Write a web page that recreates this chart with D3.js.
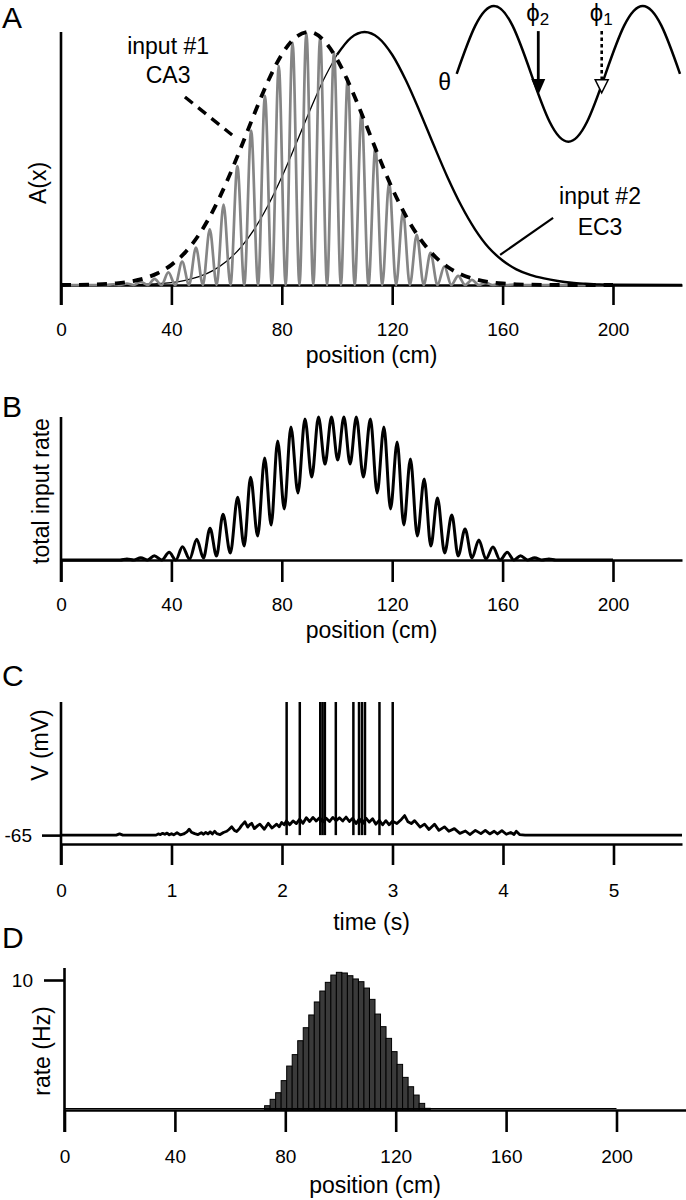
<!DOCTYPE html>
<html><head><meta charset="utf-8">
<script src="https://cdn.jsdelivr.net/npm/d3@7"></script>
<style>
body{margin:0;background:#fff}
svg{display:block;background:#fff}
text{font-family:"Liberation Sans",Arial,sans-serif;fill:#000}
</style>
</head><body>
<svg id="chart" width="686" height="1200"></svg>
<script>
// ---------------- DATA ----------------
const posTicks = [0, 40, 80, 120, 160, 200];
const timeTicks = [0, 1, 2, 3, 4, 5];
const vTicks = [-65];
const rateTicks = [10];

// Panel A: CA3 envelope (dashed), position cm / A(x)
const envX = [0,5,10,15,20,25,30,35,40,45,50,55,60,65,70,75,80,85,90,95,100,105,110,115,120,125,130,135,140,145,150,155,160,165,170,175,180,190,200];
const envY = [0,0.0006,0.0015,0.0032,0.0068,0.0136,0.0258,0.0465,0.0796,0.129,0.199,0.292,0.407,0.538,0.675,0.805,0.911,0.979,1.0,0.969,0.892,0.780,0.648,0.511,0.382,0.272,0.184,0.118,0.072,0.0415,0.0228,0.0119,0.0059,0.0028,0.0012,0.0005,0,0,0];

// Panel A: EC3 input (solid)
const ec3X = [0,20,25,30,35,40,45,50,55,60,65,70,75,80,85,90,95,100,105,110,115,120,125,130,135,140,145,150,155,160,165,170,175,180,185,190,195,200,225];
const ec3Y = [0,0.0005,0.0011,0.0024,0.0049,0.0097,0.0185,0.033,0.057,0.094,0.147,0.220,0.314,0.427,0.554,0.685,0.808,0.910,0.977,1.0,0.977,0.910,0.808,0.685,0.554,0.427,0.314,0.220,0.147,0.097,0.062,0.040,0.026,0.016,0.009,0.005,0.002,0.001,0];

// Panel A: CA3 theta-modulated input (gray) peaks and troughs
const grayPeakX = [18.9,23.9,28.9,33.9,38.9,43.9,48.9,53.9,58.9,63.9,68.9,73.9,78.9,83.9,88.9,93.9,98.9,103.9,108.9,113.9,118.9,123.9,128.9,133.9,138.9,143.9,148.9,153.9,158.9,163.9];
const grayPeakY = [0.003,0.006,0.012,0.024,0.050,0.092,0.148,0.220,0.318,0.470,0.610,0.748,0.866,0.958,0.996,0.980,0.920,0.818,0.684,0.542,0.407,0.290,0.198,0.127,0.074,0.036,0.020,0.009,0.004,0.002];
const grayTroughX = [16.4,21.4,26.4,31.4,36.4,41.4,46.4,51.4,56.4,61.4,66.4,71.4,76.4,81.4,86.4,91.4,96.4,101.4,106.4,111.4,116.4,121.4,126.4,131.4,136.4,141.4,146.4,151.4,156.4,161.4,166.4];
const grayRange = [0, 200];

// Panel B: total input rate, peaks and troughs
const bPeakX = [23.9,28.9,33.8,39.2,44.0,49.2,54.0,58.7,64.0,68.7,73.8,78.5,83.3,88.4,93.3,98.0,102.5,107.0,112.1,117.0,121.8,126.6,131.6,136.4,141.6,146.4,151.4,156.5,161.7,166.5,171.6,176.8];
const bPeakY = [0.007,0.016,0.030,0.054,0.093,0.145,0.222,0.320,0.438,0.578,0.713,0.832,0.930,0.986,1.0,1.0,1.0,1.0,0.986,0.930,0.825,0.706,0.566,0.434,0.315,0.217,0.140,0.091,0.054,0.030,0.016,0.007];
const bTroughX = [21.4,26.4,31.35,36.5,41.6,46.6,51.6,56.35,61.35,66.35,71.25,76.15,80.9,85.85,90.85,95.65,100.25,104.75,109.55,114.55,119.4,124.2,129.1,134.0,139.0,143.9,148.9,153.95,159.1,164.1,169.05,174.2,179.3];
const bTroughY = [0,0,0,0,0,0.007,0.014,0.028,0.049,0.098,0.168,0.245,0.357,0.469,0.580,0.671,0.699,0.671,0.580,0.469,0.357,0.245,0.168,0.098,0.049,0.028,0.014,0.007,0,0,0,0,0];
const bRange = [0, 200];

// Panel C: membrane potential (s, mV) and spike times
const traceT = [0,0.50,0.53,0.56,0.86,0.88,0.90,0.92,0.94,0.96,0.98,1.00,1.02,1.05,1.08,1.11,1.14,1.16,1.18,1.21,1.24,1.27,1.29,1.31,1.33,1.35,1.37,1.39,1.41,1.44,1.47,1.50,1.52,1.545,1.57,1.59,1.615,1.635,1.665,1.69,1.71,1.726,1.75,1.78,1.80,1.84,1.876,1.91,1.952,1.975,1.997,2.02,2.04,2.07,2.10,2.13,2.16,2.19,2.22,2.25,2.28,2.31,2.34,2.37,2.40,2.43,2.46,2.49,2.52,2.55,2.58,2.61,2.64,2.67,2.70,2.73,2.76,2.79,2.82,2.85,2.88,2.91,2.94,2.97,3.00,3.04,3.08,3.11,3.14,3.17,3.20,3.25,3.29,3.33,3.38,3.42,3.47,3.51,3.56,3.61,3.66,3.70,3.75,3.80,3.84,3.88,3.92,3.95,3.99,4.03,4.07,4.10,4.12,4.15,4.20,5.62];
const traceV = [-65.0,-65.0,-64.6,-65.0,-65.0,-64.6,-64.8,-64.4,-64.7,-64.3,-64.9,-64.5,-64.9,-64.2,-64.9,-64.6,-63.9,-63.0,-64.0,-64.5,-64.8,-64.2,-64.7,-64.1,-64.6,-63.9,-64.6,-63.7,-64.5,-64.8,-64.1,-63.7,-63.1,-62.2,-63.4,-63.8,-62.8,-61.7,-60.5,-62.3,-61.4,-61.0,-62.8,-61.8,-61.3,-63.0,-61.0,-62.6,-61.3,-62.2,-60.7,-61.5,-60.2,-61.5,-60.2,-61.1,-59.6,-61.0,-59.1,-60.4,-59.0,-60.2,-59.1,-60.5,-59.3,-60.4,-59.0,-60.1,-59.1,-60.2,-58.9,-60.4,-59.3,-61.1,-59.5,-61.1,-59.3,-60.6,-59.5,-61.3,-60.0,-61.5,-60.1,-61.5,-60.3,-61.1,-59.7,-58.4,-60.5,-61.1,-60.1,-62.3,-61.3,-63.1,-61.3,-63.4,-62.2,-63.7,-62.8,-64.4,-63.6,-64.8,-63.4,-64.5,-63.4,-64.6,-63.7,-64.6,-63.5,-64.7,-64.1,-64.8,-63.7,-64.8,-65.0,-65.0];
const spikeT = [2.042,2.161,2.346,2.367,2.388,2.487,2.646,2.697,2.724,2.751,2.882,3.002];
const spikePeak = -20;
const spikeReset = -65;

// Panel D: place-field histogram (2 cm bins)
const binStart = [72.5,74.5,76.5,78.5,80.5,82.5,84.5,86.5,88.5,90.5,92.5,94.5,96.5,98.5,100.5,102.5,104.5,106.5,108.5,110.5,112.5,114.5,116.5,118.5,120.5,122.5,124.5,126.5,128.5,130.5];
const binRate = [0.33,0.82,1.33,2.26,3.38,4.26,5.33,6.33,7.31,8.31,9.15,9.82,10.38,10.59,10.54,10.33,10.08,9.87,9.38,8.51,7.38,6.41,5.51,4.49,3.51,2.51,1.79,1.15,0.51,0.13];
const binWidth = 2;
const histRange = [0, 200];

// Inset: theta oscillation (cycles, normalized)
const thetaPhase = [0,0.125,0.25,0.375,0.5,0.625,0.75,0.875,1.0,1.125,1.25,1.375,1.5];
const thetaVal   = [0,0.71,1,0.71,0,-0.71,-1,-0.71,0,0.71,1,0.71,0];
const phaseMarks = [{name:"2", phase:0.548, tip:-0.31, style:"solid"},{name:"1", phase:0.974, tip:-0.28, style:"open"}];

// Annotations (data coordinates, panel A)
const annoCA3 = {lines:["input #1","CA3"], x:38.8, y:[0.945,0.83], leader:[[44.9,0.743],[62.0,0.593]]};
const annoEC3 = {lines:["input #2","EC3"], x:195.3, y:[0.352,0.228], leader:[[178.3,0.265],[159.1,0.119]]};

// ---------------- DRAW ----------------
const svg = d3.select("#chart");
const SERIF = "'Liberation Serif','DejaVu Serif',serif";
const SANS = "'Liberation Sans',Arial,sans-serif";
const AW = 2.6; // axis stroke
const fmt = d => String(d);

const xA = d3.scaleLinear([0,225],[61,682]);
const yA = d3.scaleLinear([0,1],[285,32]);
const xB = d3.scaleLinear([0,225],[61,682]);
const yB = d3.scaleLinear([0,1],[560,417]);
const xC = d3.scaleLinear([0,5.62],[61,682]);
const yC = d3.scaleLinear([-68,-20],[844,702]);
const xD = d3.scaleLinear([0,225],[64.5,685.5]);
const yD = d3.scaleLinear([0,10],[1110,980]);

function xAxis(x, y0, ticks, tickLen, pad) {
  const g = svg.append("g").attr("transform",`translate(0,${y0})`)
    .call(d3.axisBottom(x).tickValues(ticks).tickSize(tickLen).tickSizeOuter(0).tickPadding(pad).tickFormat(fmt));
  g.select(".domain").attr("stroke","#000").attr("stroke-width",AW);
  g.selectAll(".tick line").attr("stroke","#000").attr("stroke-width",AW);
  g.selectAll(".tick text").attr("font-size",19).attr("font-family",SANS).attr("fill","#000");
  return g;
}
function yTicks(x, y, ticks, len, pad, x0) {
  const g = svg.append("g").attr("transform",`translate(${x0},0)`)
    .call(d3.axisLeft(y).tickValues(ticks).tickSize(len).tickSizeOuter(0).tickPadding(pad).tickFormat(fmt));
  g.select(".domain").remove();
  g.selectAll(".tick line").attr("stroke","#000").attr("stroke-width",AW);
  g.selectAll(".tick text").attr("font-size",19).attr("font-family",SANS).attr("fill","#000");
}
function yLine(x, yTop, yBot) {
  svg.append("line").attr("x1",x).attr("x2",x).attr("y1",yTop).attr("y2",yBot)
    .attr("stroke","#000").attr("stroke-width",AW);
}
function yTitle(t, cx, cy) {
  svg.append("text").attr("transform",`translate(${cx},${cy}) rotate(-90)`)
    .attr("text-anchor","middle").attr("dy","0.35em").attr("font-size",23).text(t);
}
function xTitle(t, cx, cy) {
  svg.append("text").attr("x",cx).attr("y",cy).attr("text-anchor","middle").attr("dy","0.35em").attr("font-size",23).text(t);
}
function panelLetter(t, y) {
  svg.append("text").attr("x",2).attr("y",y).attr("font-size",30).text(t);
}

// ===== Panel A =====
panelLetter("A", 28);
xAxis(xA, yA(0), posTicks, 20, 18);
yLine(xA(0), yA.range()[1], yA(0)+20);
yTitle("A(x)", 38, 183);
xTitle("position (cm)", (xA.range()[0]+xA.range()[1])/2, 355);

const lineA = d3.line().x(d=>xA(d[0])).y(d=>yA(d[1])).curve(d3.curveMonotoneX);
const ec3 = ec3X.map((x,i)=>[x,ec3Y[i]]);
svg.append("path").datum(ec3.filter(d=>d[0]<=100)).attr("d",lineA)
  .attr("fill","none").attr("stroke","#000").attr("stroke-width",1.3);

let gray = [[grayRange[0],0]];
grayTroughX.forEach(x=>gray.push([x,0]));
grayPeakX.forEach((x,i)=>gray.push([x,grayPeakY[i]]));
gray.push([grayRange[1],0]);
gray.sort((a,b)=>a[0]-b[0]);
svg.append("path").datum(gray).attr("d",lineA)
  .attr("fill","none").attr("stroke","#858585").attr("stroke-width",2.7).attr("stroke-linejoin","round");

svg.append("path").datum(ec3.filter(d=>d[0]>=100)).attr("d",lineA)
  .attr("fill","none").attr("stroke","#000").attr("stroke-width",2.4);

svg.append("path").datum(envX.map((x,i)=>[x,envY[i]])).attr("d",lineA)
  .attr("fill","none").attr("stroke","#000").attr("stroke-width",3.8).attr("stroke-dasharray","10,8");

[annoCA3, annoEC3].forEach((a,k)=>{
  a.lines.forEach((t,i)=>{
    svg.append("text").attr("x",xA(a.x)).attr("y",yA(a.y[i])).attr("text-anchor","middle")
      .attr("dy","0.35em").attr("font-size",23).text(t);
  });
  svg.append("line").attr("x1",xA(a.leader[0][0])).attr("y1",yA(a.leader[0][1]))
    .attr("x2",xA(a.leader[1][0])).attr("y2",yA(a.leader[1][1]))
    .attr("stroke","#000").attr("stroke-width",k===0?3.4:2.2)
    .attr("stroke-dasharray",k===0?"10,7":null);
});

// theta inset
const xTh = d3.scaleLinear([0,1.5],[456.7,680]);
const yTh = d3.scaleLinear([-1,1],[141.7,6]);
svg.append("path").datum(thetaPhase.map((p,i)=>[p,thetaVal[i]]))
  .attr("d", d3.line().x(d=>xTh(d[0])).y(d=>yTh(d[1])).curve(d3.curveNatural))
  .attr("fill","none").attr("stroke","#000").attr("stroke-width",2.5);
svg.append("text").attr("x",xTh(0)-12).attr("y",yTh(-0.12)).attr("text-anchor","middle")
  .attr("dy","0.35em").attr("font-size",23).attr("font-family",SERIF).text("θ");
phaseMarks.forEach(m=>{
  const ax = xTh(m.phase), tipY = yTh(m.tip), topY = yTh(0.63);
  if (m.style==="solid") {
    svg.append("line").attr("x1",ax).attr("x2",ax).attr("y1",topY).attr("y2",tipY-12)
      .attr("stroke","#000").attr("stroke-width",2.8);
    svg.append("path").attr("d",`M${ax},${tipY} L${ax-7},${tipY-16} L${ax+7},${tipY-16} Z`).attr("fill","#000");
  } else {
    svg.append("line").attr("x1",ax).attr("x2",ax).attr("y1",topY).attr("y2",tipY-13)
      .attr("stroke","#000").attr("stroke-width",2.6).attr("stroke-dasharray","3.5,3");
    svg.append("path").attr("d",`M${ax},${tipY} L${ax-6.5},${tipY-13} L${ax+6.5},${tipY-13} Z`)
      .attr("fill","#fff").attr("stroke","#000").attr("stroke-width",1.5);
  }
  const t = svg.append("text").attr("x",ax-12).attr("y",21).attr("font-family",SERIF).attr("font-size",24);
  t.append("tspan").text("ϕ");
  t.append("tspan").attr("font-size",17).attr("dy",4).text(m.name);
});

// ===== Panel B =====
panelLetter("B", 417);
xAxis(xB, yB(0), posTicks, 22, 16);
yLine(xB(0), yB.range()[1], yB(0)+22);
yTitle("total input rate", 41, 491);
xTitle("position (cm)", (xB.range()[0]+xB.range()[1])/2, 630);
let bPts = [[bRange[0],0]];
bTroughX.forEach((x,i)=>bPts.push([x,bTroughY[i]]));
bPeakX.forEach((x,i)=>bPts.push([x,bPeakY[i]]));
bPts.push([bRange[1],0]);
bPts.sort((a,b)=>a[0]-b[0]);
svg.append("path").datum(bPts)
  .attr("d", d3.line().x(d=>xB(d[0])).y(d=>yB(d[1])).curve(d3.curveMonotoneX))
  .attr("fill","none").attr("stroke","#000").attr("stroke-width",3).attr("stroke-linejoin","round");

// ===== Panel C =====
panelLetter("C", 686);
xAxis(xC, yC(-68), timeTicks, 21, 19);
yLine(xC(0), yC.range()[1], yC(-68)+21);
yTicks(null, yC, vTicks, 19, 10, xC(0));
yTitle("V (mV)", 40, 745);
xTitle("time (s)", (xC.range()[0]+xC.range()[1])/2, 922);
svg.append("path").datum(traceT.map((t,i)=>[t,traceV[i]]))
  .attr("d", d3.line().x(d=>xC(d[0])).y(d=>yC(d[1])))
  .attr("fill","none").attr("stroke","#000").attr("stroke-width",2.8).attr("stroke-linejoin","round");
svg.selectAll(".spike").data(spikeT).enter().append("line")
  .attr("x1",d=>xC(d)).attr("x2",d=>xC(d)).attr("y1",yC(spikePeak)).attr("y2",yC(spikeReset))
  .attr("stroke","#000").attr("stroke-width",2.5);

// ===== Panel D =====
panelLetter("D", 948);
svg.selectAll(".bar").data(binStart).enter().append("rect")
  .attr("x",d=>xD(d)).attr("width",d=>xD(d+binWidth)-xD(d))
  .attr("y",(d,i)=>yD(binRate[i])).attr("height",(d,i)=>yD(0)-yD(binRate[i]))
  .attr("fill","#3a3a3a").attr("stroke","#000").attr("stroke-width",1);
svg.append("line").attr("x1",xD(histRange[0])).attr("x2",xD(histRange[1]))
  .attr("y1",yD(0)-1.5).attr("y2",yD(0)-1.5).attr("stroke","#000").attr("stroke-width",1.2);
xAxis(xD, yD(0), posTicks, 22, 18);
yLine(xD(0), 968, yD(0)+22);
yTicks(null, yD, rateTicks, 20.5, 11, xD(0));
yTitle("rate (Hz)", 42, 1051);
xTitle("position (cm)", (xD.range()[0]+xD.range()[1])/2, 1185);
</script>
</body></html>
